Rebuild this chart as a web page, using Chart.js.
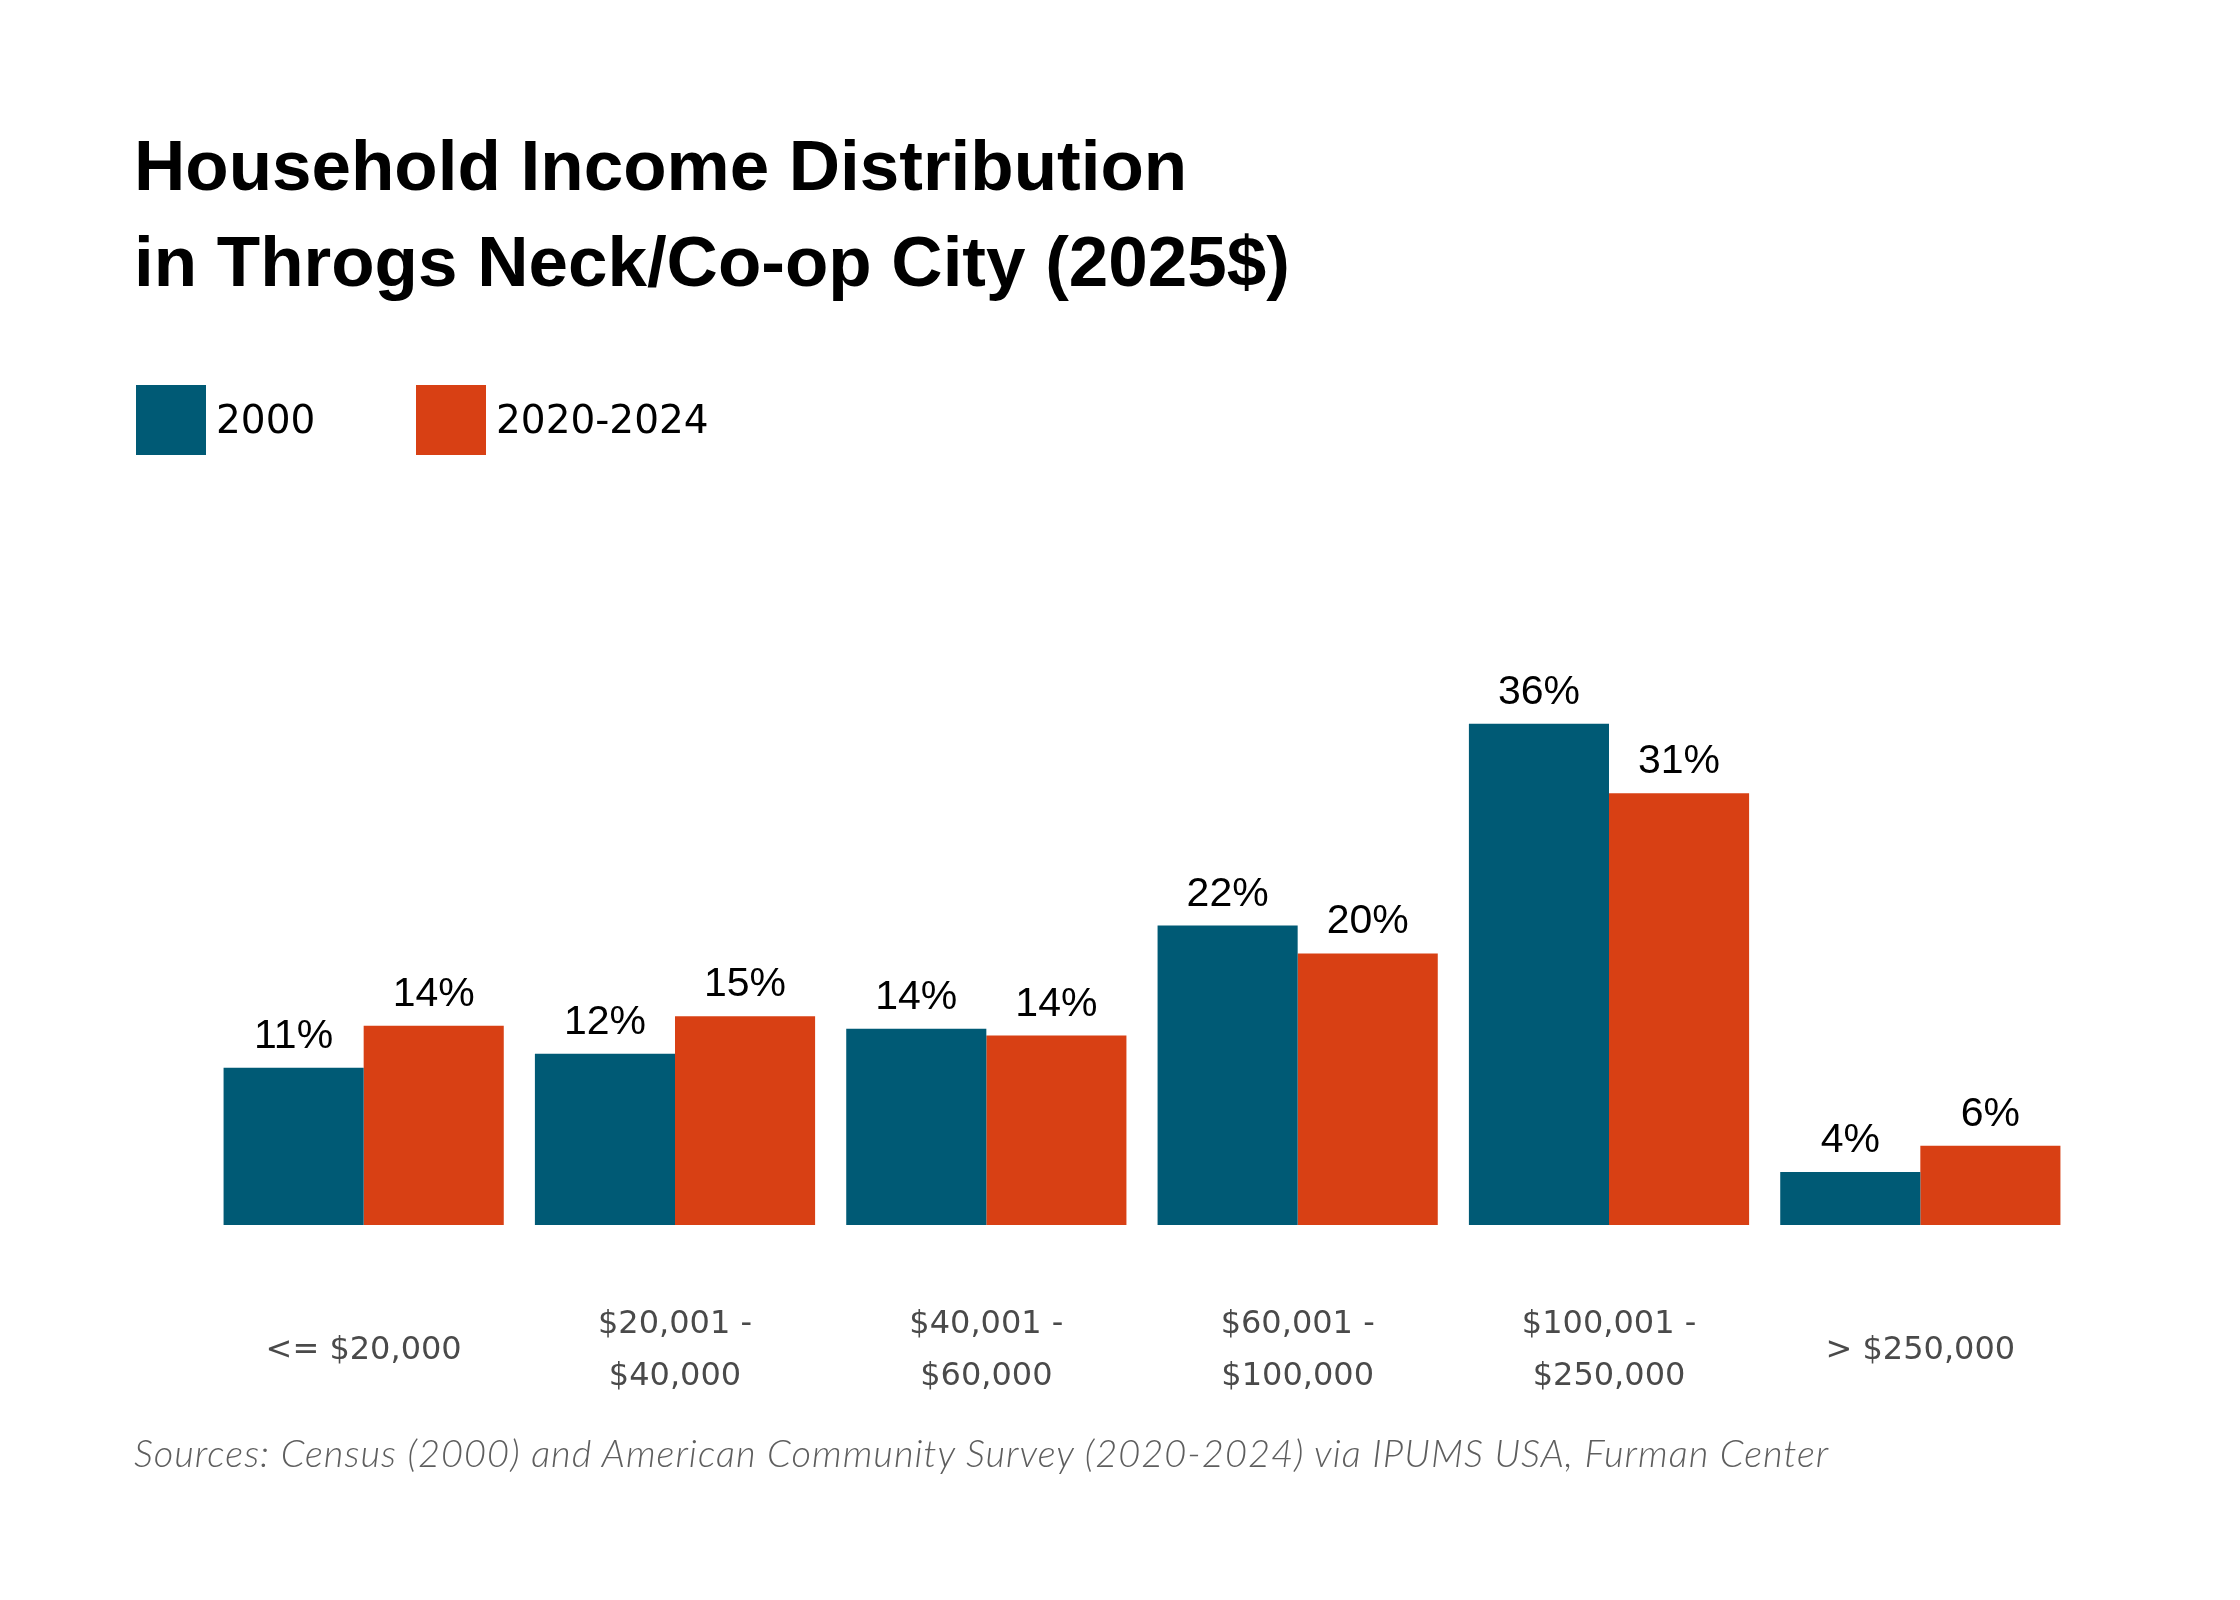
<!DOCTYPE html>
<html>
<head>
<meta charset="utf-8">
<title>Household Income Distribution in Throgs Neck/Co-op City</title>
<script src="https://cdn.jsdelivr.net/npm/chart.js@4.4.1/dist/chart.umd.min.js"></script>
<style>
  html, body { margin: 0; padding: 0; background: #fff; }
  #wrap { position: relative; width: 2240px; height: 1600px; overflow: hidden; }
  #chart { position: absolute; left: 0; top: 0; }
  .title {
    position: absolute; left: 134px; top: 118px;
    font-family: "Liberation Sans", Arial, sans-serif; font-weight: bold;
    font-size: 71px; line-height: 96px; color: #000; white-space: nowrap;
  }
  .legend-box { position: absolute; top: 385px; width: 70px; height: 70px; }
  .legend-text {
    position: absolute; top: 385px; line-height: 70px;
    font-family: "DejaVu Sans", sans-serif; font-size: 39px; color: #000; white-space: nowrap;
  }
  .source {
    position: absolute; left: 134px; top: 1431px;
    font-family: Lato, sans-serif; font-style: italic; font-weight: 300; font-size: 38px;
    letter-spacing: 1px; line-height: 43px; color: #5e5e5e; white-space: nowrap;
  }
</style>
</head>
<body>
<div id="wrap">
  <canvas id="chart" width="2240" height="1600"></canvas>
  <div class="title">Household Income Distribution<br>in Throgs Neck/Co-op City (2025$)</div>
  <div id="legend"></div>
  <div class="source">Sources: Census (2000) and American Community Survey (2020-2024) via IPUMS USA, Furman Center</div>
</div>
<script>
// Datos del gráfico
const categories = [
    ['<= $20,000'],
    ['$20,001 -', '$40,000'],
    ['$40,001 -', '$60,000'],
    ['$60,001 -', '$100,000'],
    ['$100,001 -', '$250,000'],
    ['> $250,000']
];
const seriesNames = ['2000', '2020-2024'];
const values2000 = [11.3, 12.3, 14.1, 21.5, 36.0, 3.8];
const values2020 = [14.3, 15.0, 13.6, 19.5, 31.0, 5.7];
const seriesColors = ['#005a75', '#d84014'];

// Leyenda
const legend = document.getElementById('legend');
const legendLeft = [136, 416];
seriesNames.forEach((name, i) => {
    const box = document.createElement('div');
    box.className = 'legend-box';
    box.style.left = legendLeft[i] + 'px';
    box.style.background = seriesColors[i];
    legend.appendChild(box);
    const txt = document.createElement('div');
    txt.className = 'legend-text';
    txt.style.left = (legendLeft[i] + 80) + 'px';
    txt.textContent = name;
    legend.appendChild(txt);
});

// Etiquetas de valor encima de cada barra
const valueLabels = {
    id: 'valueLabels',
    afterDatasetsDraw(chart) {
        const ctx = chart.ctx;
        ctx.save();
        ctx.font = '41px "Liberation Sans", Arial, sans-serif';
        ctx.fillStyle = '#000';
        ctx.textAlign = 'center';
        ctx.textBaseline = 'alphabetic';
        chart.data.datasets.forEach((ds, di) => {
            chart.getDatasetMeta(di).data.forEach((bar, i) => {
                ctx.fillText(Math.round(ds.data[i]) + '%', bar.x, bar.y - 20);
            });
        });
        ctx.restore();
    }
};

const chart = new Chart(document.getElementById('chart').getContext('2d'), {
    type: 'bar',
    data: {
        labels: categories,
        datasets: [
            { label: seriesNames[0], data: values2000, backgroundColor: seriesColors[0] },
            { label: seriesNames[1], data: values2020, backgroundColor: seriesColors[1] }
        ]
    },
    options: {
        responsive: false,
        animation: false,
        devicePixelRatio: 1,
        layout: { padding: { left: 208, right: 164, top: 668, bottom: 173 } },
        datasets: {
            bar: { barPercentage: 1, categoryPercentage: 0.9, borderWidth: 0 }
        },
        plugins: {
            legend: { display: false },
            title: { display: false },
            tooltip: { enabled: false }
        },
        scales: {
            x: {
                grid: { display: false, drawTicks: false },
                border: { display: false },
                afterFit(scale) { scale.height = 202; },
                ticks: {
                    padding: 100,
                    crossAlign: 'center',
                    maxRotation: 0,
                    autoSkip: false,
                    color: '#4a4a4a',
                    font: { family: '"DejaVu Sans", sans-serif', size: 32, lineHeight: 1.6 }
                }
            },
            y: {
                display: false,
                min: 0,
                max: 40
            }
        }
    },
    plugins: [valueLabels]
});
</script>
</body>
</html>
